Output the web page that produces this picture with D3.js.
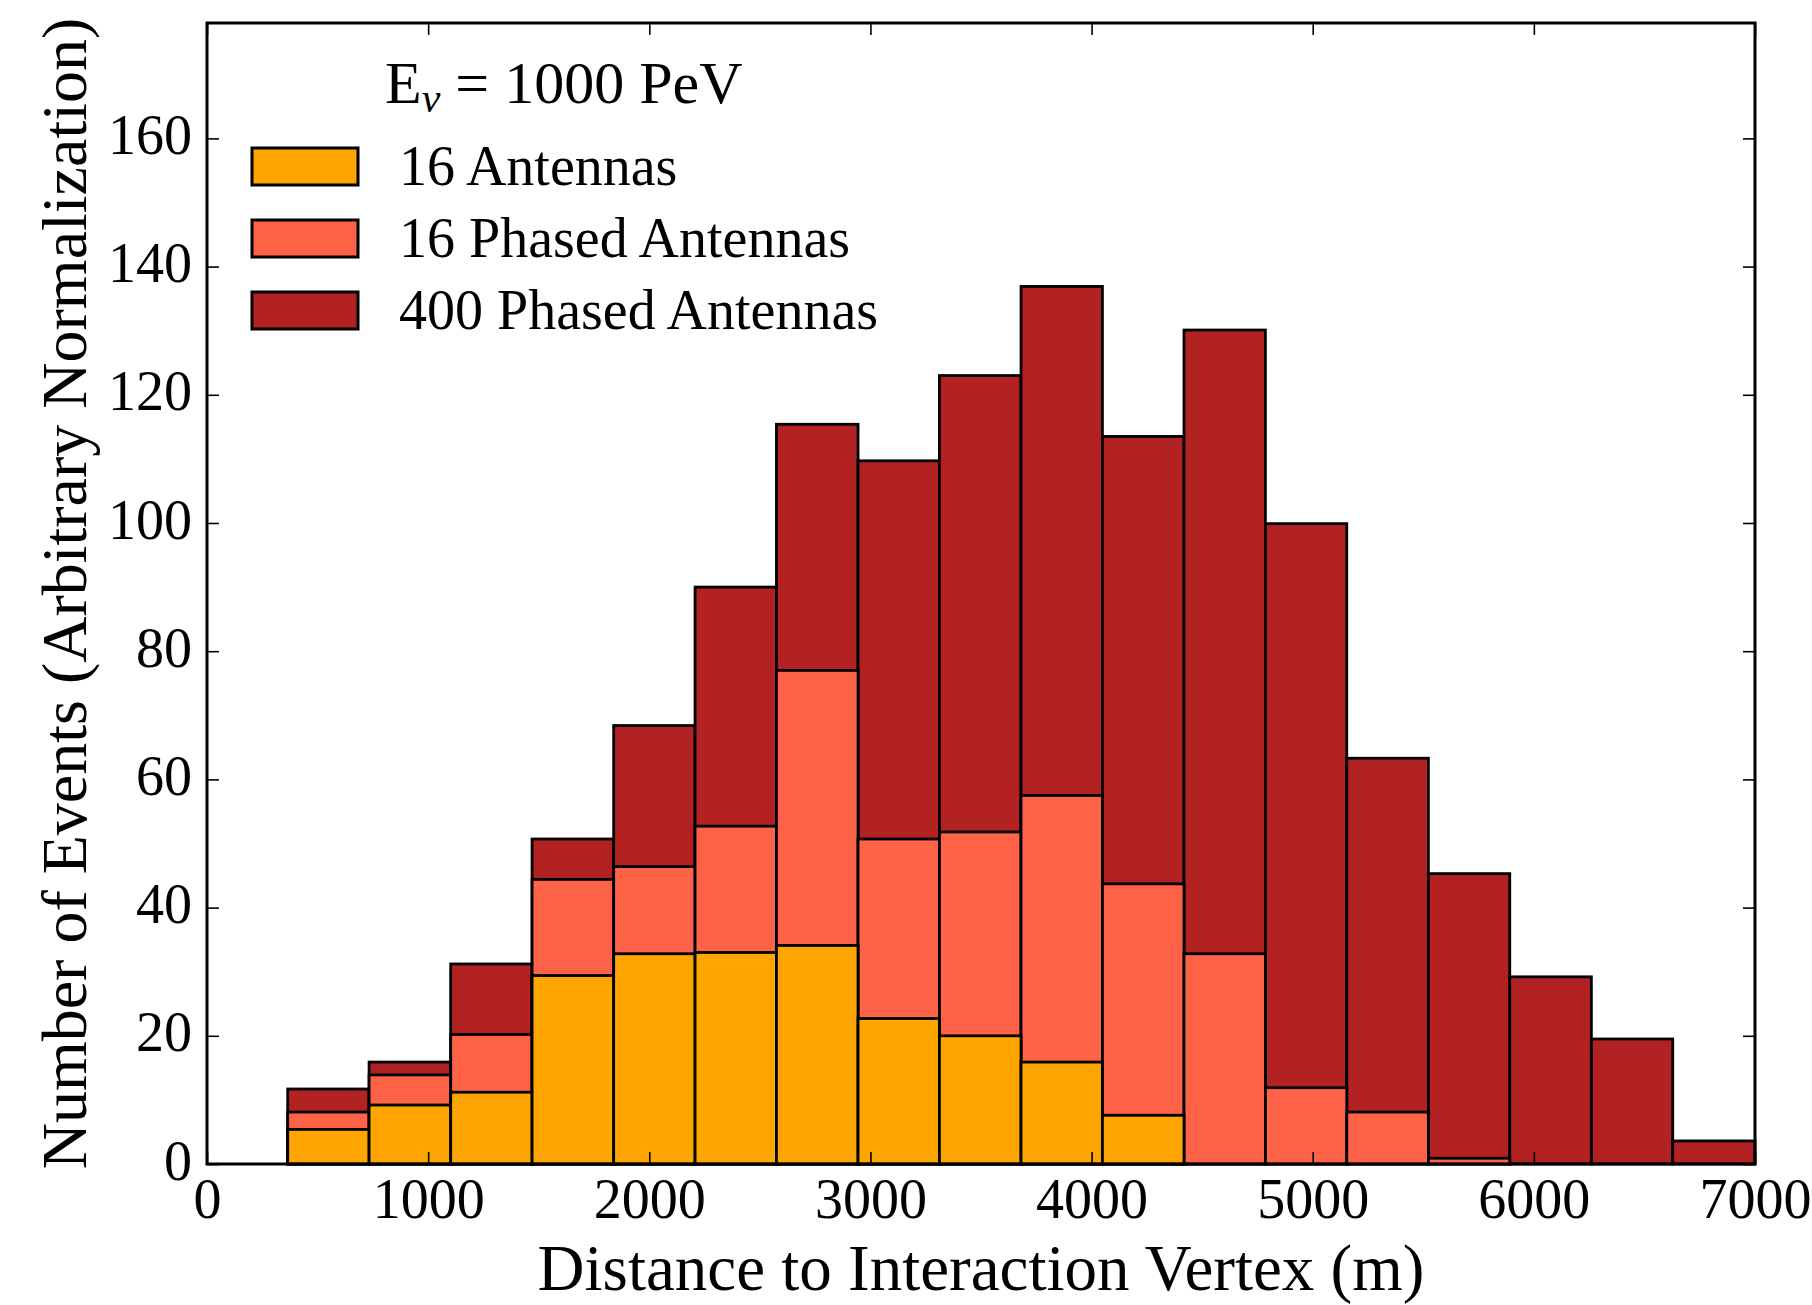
<!DOCTYPE html>
<html><head><meta charset="utf-8">
<script src="https://cdn.jsdelivr.net/npm/d3@7"></script>
<style>body{margin:0;background:#fff}</style>
</head><body><svg id="c" width="1812" height="1305"></svg>
<script>
// ---- data ----
const binEdges = [365, 733, 1102, 1470, 1839, 2207, 2575, 2944, 3312, 3681, 4049, 4418, 4786, 5154, 5523, 5891, 6260, 6628, 7000];
const antennas16 = [5.4, 9.2, 11.2, 29.4, 32.8, 33.0, 34.1, 22.7, 20.0, 15.9, 7.6, 0, 0, 0, 0, 0, 0, 0];
const phased16 = [8.1, 13.9, 20.2, 44.4, 46.4, 52.7, 77.0, 50.7, 51.8, 57.5, 43.7, 32.8, 11.9, 8.1, 0.9, 0, 0, 0];
const phased400 = [11.7, 15.9, 31.2, 50.7, 68.4, 90.0, 115.4, 109.7, 123.0, 136.9, 113.5, 130.1, 99.9, 63.3, 45.3, 29.2, 19.5, 3.6];
const xTicks = [0, 1000, 2000, 3000, 4000, 5000, 6000, 7000];
const yTicks = [0, 20, 40, 60, 80, 100, 120, 140, 160];
const seriesNames = ["16 Antennas", "16 Phased Antennas", "400 Phased Antennas"];
const seriesColors = ["#FFA500", "#FF6347", "#B22222"];
const xDomain = [0, 7000];
const yDomain = [0, 178];

// ---- layout ----
const svg = d3.select("#c");
const L = 207, T = 23, W = 1548, H = 1141;
const FONT = "'Liberation Serif', 'Times New Roman', serif";
const x = d3.scaleLinear().domain(xDomain).range([L, L + W]);
const y = d3.scaleLinear().domain(yDomain).range([T + H, T]);

const series = [
  {name: seriesNames[2], color: seriesColors[2], values: phased400},
  {name: seriesNames[1], color: seriesColors[1], values: phased16},
  {name: seriesNames[0], color: seriesColors[0], values: antennas16}
];

const gBars = svg.append("g");
series.forEach(s => {
  gBars.append("g").selectAll("rect")
    .data(s.values.map((v, i) => ({v, x0: binEdges[i], x1: binEdges[i + 1]})).filter(d => d.v > 0))
    .join("rect")
    .attr("x", d => x(d.x0))
    .attr("width", d => x(d.x1) - x(d.x0))
    .attr("y", d => y(d.v))
    .attr("height", d => y(0) - y(d.v))
    .attr("fill", s.color)
    .attr("stroke", "#000")
    .attr("stroke-width", 2.8);
});

// axes
function styleAxis(g) {
  g.select(".domain").remove();
  g.selectAll(".tick line").attr("stroke", "#000").attr("stroke-width", 1.6);
  g.selectAll(".tick text").attr("font-family", FONT).attr("font-size", 56).attr("fill", "#000");
}
const axB = svg.append("g").attr("transform", `translate(0,${T + H})`)
  .call(d3.axisBottom(x).tickValues(xTicks).tickSize(-12).tickPadding(14).tickFormat(d3.format("d")))
  .call(styleAxis);
axB.selectAll(".tick text").attr("dy", null).attr("y", 54);
svg.append("g").attr("transform", `translate(0,${T})`)
  .call(d3.axisTop(x).tickValues(xTicks).tickSize(-12).tickFormat(""))
  .call(styleAxis);
const axL = svg.append("g").attr("transform", `translate(${L},0)`)
  .call(d3.axisLeft(y).tickValues(yTicks).tickSize(-12).tickPadding(15).tickFormat(d3.format("d")))
  .call(styleAxis);
axL.selectAll(".tick text").attr("dy", "0.27em");
svg.append("g").attr("transform", `translate(${L + W},0)`)
  .call(d3.axisRight(y).tickValues(yTicks).tickSize(-12).tickFormat(""))
  .call(styleAxis);

// frame
svg.append("rect").attr("x", L).attr("y", T).attr("width", W).attr("height", H)
  .attr("fill", "none").attr("stroke", "#000").attr("stroke-width", 3);

// axis labels
svg.append("text").attr("x", L + W / 2).attr("y", 1290).attr("text-anchor", "middle")
  .attr("font-family", FONT).attr("font-size", 65).text("Distance to Interaction Vertex (m)");
svg.append("text").attr("transform", `translate(86,${T + H / 2}) rotate(-90)`).attr("text-anchor", "middle")
  .attr("font-family", FONT).attr("font-size", 64).text("Number of Events (Arbitrary Normalization)");

// legend title
const title = svg.append("text").attr("x", 385).attr("y", 103).attr("font-family", FONT).attr("font-size", 60);
title.append("tspan").text("E");
title.append("tspan").attr("font-style", "italic").attr("font-size", 42).attr("dy", 9).text("ν");
title.append("tspan").attr("dy", -9).text(" = 1000 PeV");

// legend entries
const legendOrder = [0, 1, 2];
const lg = svg.append("g");
legendOrder.forEach((k, i) => {
  const yy = 148 + i * 72;
  lg.append("rect").attr("x", 252).attr("y", yy).attr("width", 106).attr("height", 37)
    .attr("fill", seriesColors[k]).attr("stroke", "#000").attr("stroke-width", 3);
  lg.append("text").attr("x", 399).attr("y", yy + 37).attr("font-family", FONT).attr("font-size", 56)
    .text(seriesNames[k]);
});
</script>
</body></html>
